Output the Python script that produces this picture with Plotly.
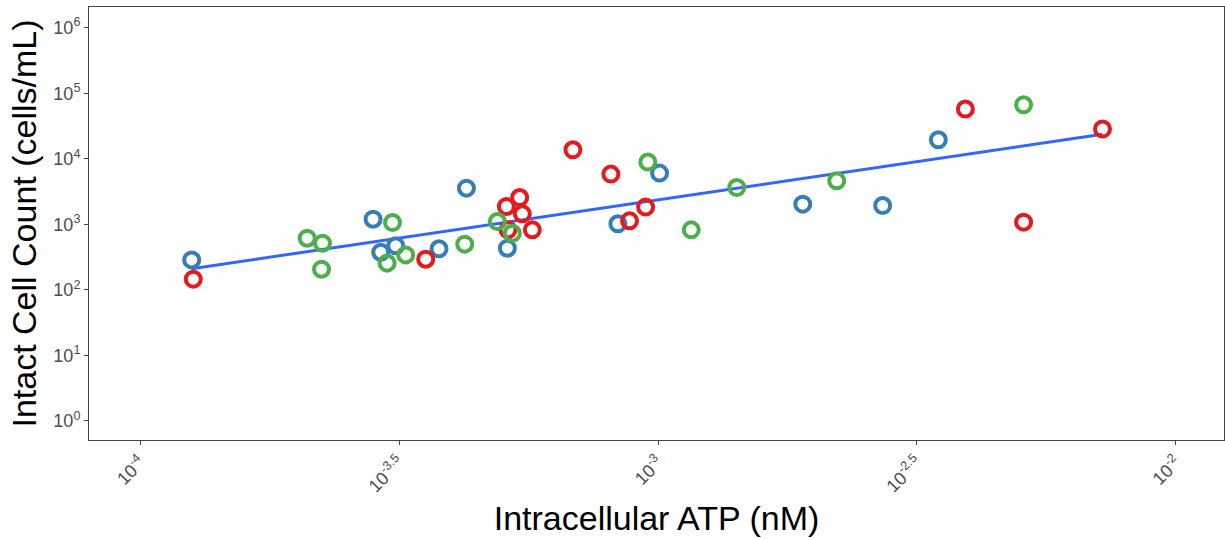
import numpy as np
import plotly.graph_objects as go

# Intracellular ATP (nM) and intact cell count (cells/mL), per group
atp_blue = [1.257e-4, 2.816e-4, 3.114e-4, 2.914e-4, 3.776e-4, 4.265e-4, 5.117e-4,
            8.364e-4, 1.0067e-3, 1.903e-3, 2.715e-3, 3.478e-3]
icc_blue = [287, 1200, 470, 376, 423, 3570, 433, 1018, 6050, 2034, 1937, 19500]

atp_red = [1.266e-4, 3.559e-4, 5.095e-4, 5.404e-4, 5.469e-4, 5.131e-4, 5.717e-4,
           6.848e-4, 8.108e-4, 8.810e-4, 9.461e-4, 3.922e-3, 5.081e-3, 7.217e-3]
icc_red = [146, 294, 1870, 2566, 1446, 824, 824, 13720, 5840, 1131, 1832, 57400, 1081, 28400]

atp_green = [2.101e-4, 2.249e-4, 2.239e-4, 3.070e-4, 2.997e-4, 3.256e-4, 4.233e-4,
             4.894e-4, 5.231e-4, 9.557e-4, 1.159e-3, 1.419e-3, 2.213e-3, 5.081e-3]
icc_green = [615, 516, 207, 1065, 256, 342, 499, 1104, 734, 8910, 824, 3647, 4616, 66700]

x_tick_vals = [1e-4, 10 ** -3.5, 1e-3, 10 ** -2.5, 1e-2]
x_tick_text = ["10<sup>-4</sup>", "10<sup>-3.5</sup>", "10<sup>-3</sup>",
               "10<sup>-2.5</sup>", "10<sup>-2</sup>"]
y_tick_vals = [1, 10, 100, 1000, 1e4, 1e5, 1e6]
y_tick_text = ["10<sup>0</sup>", "10<sup>1</sup>", "10<sup>2</sup>", "10<sup>3</sup>",
               "10<sup>4</sup>", "10<sup>5</sup>", "10<sup>6</sup>"]

series = [
    (atp_blue, icc_blue, "#377EB8"),
    (atp_red, icc_red, "#E41A1C"),
    (atp_green, icc_green, "#4DAF4A"),
]

fig = go.Figure()

# linear fit in log-log space
all_x = np.log10(np.array(atp_blue + atp_red + atp_green))
all_y = np.log10(np.array(icc_blue + icc_red + icc_green))
slope, intercept = np.polyfit(all_x, all_y, 1)
fx = np.linspace(all_x.min(), all_x.max(), 50)
fig.add_trace(go.Scatter(x=10 ** fx, y=10 ** (slope * fx + intercept), mode="lines",
                         line=dict(color="#3366FF", width=3), showlegend=False,
                         hoverinfo="skip"))

for xs, ys, col in series:
    fig.add_trace(go.Scatter(
        x=xs, y=ys, mode="markers",
        marker=dict(symbol="circle-open", size=15, color=col, line=dict(width=4, color=col)),
        showlegend=False))

axis_common = dict(
    showgrid=False, zeroline=False, showline=True, mirror=True,
    linecolor="#444444", linewidth=1, ticks="outside", ticklen=4,
    tickcolor="#444444", tickfont=dict(family="Liberation Sans, Arial", size=18, color="#4D4D4D"),
)

fig.update_layout(
    width=1225, height=539,
    margin=dict(l=89, r=1, t=7, b=99),
    paper_bgcolor="white", plot_bgcolor="white",
    font=dict(family="Liberation Sans, Arial"),
    xaxis=dict(type="log", range=[-4.099, -1.907], tickvals=x_tick_vals,
               ticktext=x_tick_text, tickangle=-45,
               title=dict(text="Intracellular ATP (nM)", font=dict(size=34, color="black"),
                          standoff=10),
               **axis_common),
    yaxis=dict(type="log", range=[-0.29, 6.316], tickvals=y_tick_vals,
               ticktext=y_tick_text,
               title=dict(text="Intact Cell Count (cells/mL)", font=dict(size=34, color="black"),
                          standoff=6),
               **axis_common),
)

fig.write_html("out.html", config={"displayModeBar": False},
               post_script="document.body.style.margin='0';")
